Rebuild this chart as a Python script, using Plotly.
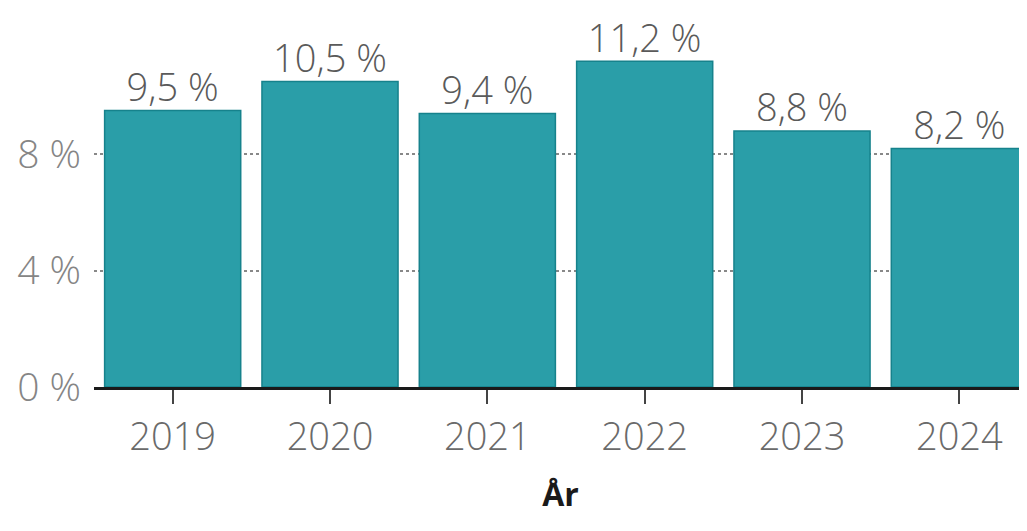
import plotly.graph_objects as go

years = ["2019", "2020", "2021", "2022", "2023", "2024"]
values = [9.5, 10.5, 9.4, 11.2, 8.8, 8.2]
ytick_vals = [0, 4, 8]
ytick_text = ["0 %", "4 %", "8 %"]

labels = [f"{v:.1f} %".replace(".", ",") for v in values]

fig = go.Figure()
fig.add_trace(go.Bar(
    x=years, y=values,
    marker=dict(color="#2a9ea8", line=dict(color="#16828c", width=1.5)),
    hoverinfo="skip",
))
fig.add_trace(go.Scatter(
    x=years, y=values, text=labels, mode="text", textposition="top center",
    cliponaxis=False,
    textfont=dict(family="Open Sans", size=38, color="#5a5a5a", weight=300),
    hoverinfo="skip",
))

fig.update_layout(
    width=1027, height=531,
    margin=dict(l=86, r=8, t=4, b=152),
    paper_bgcolor="white", plot_bgcolor="white",
    bargap=0.135,
    showlegend=False,
    font=dict(family="Open Sans", color="#666666"),
)
fig.update_xaxes(
    type="category", range=[-0.5, 5.43],
    showline=True, linecolor="#1a1a1a", linewidth=3,
    ticks="outside", ticklen=14, tickwidth=2, tickcolor="#444444",
    tickfont=dict(size=38, color="#6a6a6a", weight=300),
    title=dict(text="<b>År</b>", font=dict(size=32, color="#1a1a1a"), standoff=25),
)
fig.update_yaxes(
    range=[0, 12.89], tickvals=ytick_vals, ticktext=ytick_text,
    showgrid=True, gridcolor="#888888", griddash="dot", gridwidth=1.5,
    zeroline=False, layer="above traces",
    tickfont=dict(size=39, color="#858585", weight=300), ticklabelstandoff=12,
)

fig.write_html("out.html")
